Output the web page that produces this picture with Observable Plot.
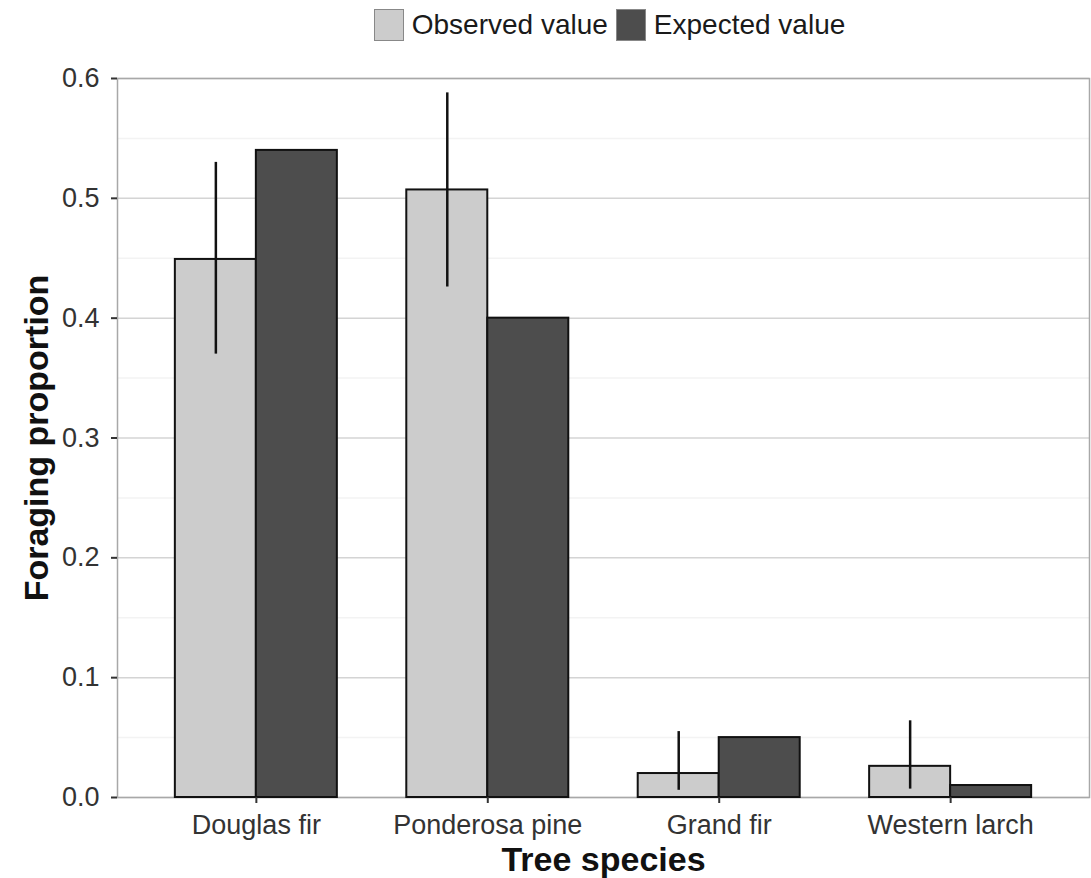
<!DOCTYPE html>
<html>
<head>
<meta charset="utf-8">
<script src="https://cdn.jsdelivr.net/npm/d3@7"></script>
<script src="https://cdn.jsdelivr.net/npm/@observablehq/plot@0.6"></script>
<style>
  html, body { margin: 0; padding: 0; background: #fff; }
  body { width: 1091px; height: 878px; overflow: hidden; font-family: "Liberation Sans", Arial, Helvetica, sans-serif; }
  #legend { height: 50px; display: flex; align-items: center; justify-content: center; padding-left: 128px; box-sizing: border-box; font-size: 28px; color: #1a1a1a; }
  #legend .item { display: flex; align-items: center; margin: 0 4px; }
  #legend .sw { width: 30px; height: 32px; border: 1.5px solid #888; box-sizing: border-box; margin-right: 8px; }
  #chart svg { display: block; }
</style>
</head>
<body>
<div id="legend"></div>
<div id="chart"></div>
<script>
// ---- data ----
const species = ["Douglas fir", "Ponderosa pine", "Grand fir", "Western larch"];
const seriesNames = ["Observed value", "Expected value"];
const seriesColors = ["#cccccc", "#4d4d4d"];
const observed = [0.449, 0.507, 0.020, 0.026];
const expected = [0.540, 0.400, 0.050, 0.010];
const errLow  = [0.370, 0.426, 0.006, 0.007];
const errHigh = [0.530, 0.588, 0.055, 0.064];
const yTicks = [0, 0.1, 0.2, 0.3, 0.4, 0.5, 0.6];
const yMinor = [0.05, 0.15, 0.25, 0.35, 0.45, 0.55];

// ---- table built from arrays (dodged bars, ggplot-style width 0.7) ----
const dodge = 0.35;
const rows = [];
species.forEach((s, i) => {
  rows.push({species: s, idx: i + 1, series: seriesNames[0], value: observed[i], x1: i + 1 - dodge, x2: i + 1});
  rows.push({species: s, idx: i + 1, series: seriesNames[1], value: expected[i], x1: i + 1, x2: i + 1 + dodge});
});
const errs = species.map((s, i) => ({species: s, x: i + 1 - dodge / 2, lo: errLow[i], hi: errHigh[i]}));

// ---- legend ----
const legend = document.getElementById("legend");
seriesNames.forEach((name, k) => {
  const item = document.createElement("div");
  item.className = "item";
  const sw = document.createElement("span");
  sw.className = "sw";
  sw.style.background = seriesColors[k];
  const lab = document.createElement("span");
  lab.textContent = name;
  item.appendChild(sw);
  item.appendChild(lab);
  legend.appendChild(item);
});

// ---- chart ----
const chart = Plot.plot({
  width: 1091,
  height: 828,
  marginLeft: 117,
  marginRight: 2,
  marginTop: 28,
  marginBottom: 81,
  style: {fontFamily: '"Liberation Sans", Arial, Helvetica, sans-serif', background: "#fff"},
  x: {type: "linear", domain: [0.4, 4.6], axis: null},
  y: {domain: [0, 0.6], axis: null},
  color: {domain: seriesNames, range: seriesColors},
  marks: [
    Plot.ruleY(yMinor, {stroke: "#f3f3f3", strokeWidth: 1.5}),
    Plot.ruleY(yTicks, {stroke: "#d4d4d4", strokeWidth: 1.5}),
    Plot.frame({stroke: "#a8a8a8", strokeWidth: 1.5}),
    Plot.rect(rows, {x1: "x1", x2: "x2", y1: () => 0, y2: "value", fill: "series", stroke: "#111", strokeWidth: 2}),
    Plot.ruleX(errs, {x: "x", y1: "lo", y2: "hi", stroke: "#111", strokeWidth: 2.5}),
    Plot.axisY({ticks: yTicks, tickFormat: d3.format(".1f"), tickSize: 6, tickPadding: 12, fontSize: 27, color: "#333", stroke: "#333", strokeWidth: 2, label: null}),
    Plot.axisX({ticks: [1, 2, 3, 4], tickFormat: d => species[d - 1], tickSize: 6, tickPadding: 11, fontSize: 27, color: "#333", stroke: "#333", strokeWidth: 2, label: null}),
    Plot.text(["Foraging proportion"], {frameAnchor: "left", textAnchor: "middle", lineAnchor: "middle", rotate: -90, dx: -80, fontSize: 34, fontWeight: "bold", fill: "#111"}),
    Plot.text(["Tree species"], {frameAnchor: "bottom", textAnchor: "middle", lineAnchor: "middle", dy: 63, fontSize: 34, fontWeight: "bold", fill: "#111"})
  ]
});
document.getElementById("chart").appendChild(chart);
</script>
</body>
</html>
